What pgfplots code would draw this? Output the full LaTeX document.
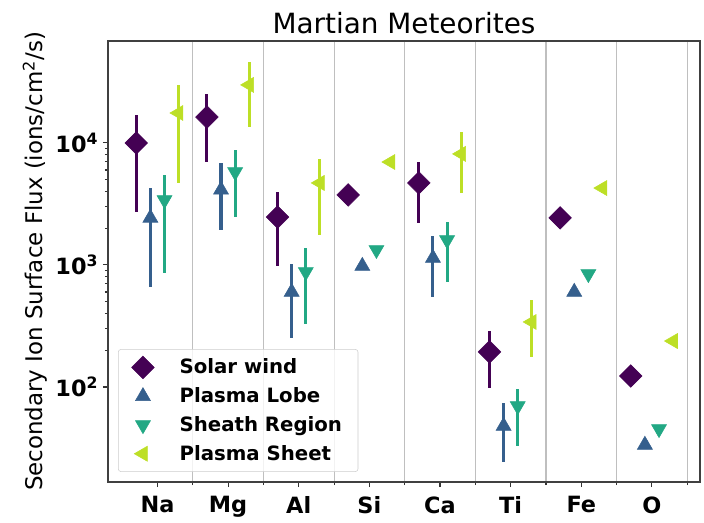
\documentclass[border=0pt]{standalone}
\usepackage{pgfplots}
\usepackage{pgfplotstable}
\usepackage{fontspec}
\setmainfont{DejaVu Sans}
\pgfplotsset{compat=1.18}
\definecolor{cSW}{HTML}{440154}
\definecolor{cPL}{HTML}{355F8D}
\definecolor{cSH}{HTML}{22A884}
\definecolor{cPS}{HTML}{BDDF26}

\pgfplotstableread{
x y ep em
-0.3 10000 7000 7280
0.7 16300 8900 9320
1.7 2470 1500 1490
2.7 3750 0 0
3.7 4700 2280 2490
4.7 194 94 96
5.7 2430 0 0
6.7 123 0 0
}\tSW
\pgfplotstableread{
x y ep em
-0.1 2430 1840 1770
0.9 4130 2720 2190
1.9 601 419 349
2.9 980 0 0
3.9 1140 590 593
4.9 47.9 26.1 23.6
5.9 601 0 0
6.9 33.5 0 0
}\tPL
\pgfplotstableread{
x y ep em
0.1 3410 2060 2551
1.1 5780 2990 3310
2.1 877 503 549
3.1 1330 0 0
4.1 1600 650 874
5.1 69.8 26.2 37
6.1 844 0 0
7.1 45.3 0 0
}\tSH
\pgfplotstableread{
x y ep em
0.3 17600 12300 12900
1.3 29900 16200 16400
2.3 4700 2700 2940
3.3 6980 0 0
4.3 8130 4170 4240
5.3 341 176 165
6.3 4270 350 350
7.3 238 0 0
}\tPS

\begin{document}
\begin{tikzpicture}
\begin{axis}[
  scale only axis,
  width=444pt, height=330.75pt,
  ymode=log,
  xmin=-0.7, xmax=7.68,
  ymin=16.65, ymax=68500,
  xtick={0,1,2,3,4,5,6,7},
  xticklabels={Na,Mg,Al,Si,Ca,Ti,Fe,O},
  minor xtick={0.5,1.5,2.5,3.5,4.5,5.5,6.5,7.5},
  xminorgrids=true,
  minor grid style={black!25, line width=0.8pt},
  ytick={100,1000,10000},
  yticklabels={\textbf{10\textsuperscript{2}},\textbf{10\textsuperscript{3}},\textbf{10\textsuperscript{4}}},
  tick align=outside,
  xtick pos=bottom, ytick pos=left,
  major tick length=3.8pt, minor tick length=2.4pt,
  every tick/.style={black!80, line width=0.8pt},
  axis line style={black!75, line width=1.1pt},
  ticklabel style={font=\fontsize{16.8}{19}\selectfont\bfseries},
  xticklabel style={yshift=-3.5pt},
  title={Martian Meteorites},
  title style={font=\fontsize{20.9}{24}\selectfont, yshift=-4pt},
  ylabel={Secondary Ion Surface Flux (ions/cm\textsuperscript{2}/s)},
  ylabel style={font=\fontsize{17.2}{20}\selectfont, yshift=-1pt},
  legend style={at={(0.017,0.023)}, anchor=south west, draw=black!20, rounded corners=2pt,
    fill=white, fill opacity=0.8, text opacity=1,
    font=\fontsize{14.8}{17}\selectfont\bfseries, row sep=4.8pt, inner xsep=10pt, inner ysep=5pt,
    /tikz/every odd column/.append style={column sep=17pt}},
  legend image post style={fill opacity=1, draw opacity=1},
  legend cell align=left,
  error bars/y dir=both, error bars/y explicit, error bars/error mark=none,
]
\addplot[only marks, mark=square*, mark size=6pt, mark options={rotate=45, cSW, fill=cSW},
  error bars/error bar style={cSW, line width=2.3pt}]
  table[x=x, y=y, y error plus=ep, y error minus=em]{\tSW};
\addlegendentry{Solar wind}
\addplot[only marks, mark=triangle*, mark size=6.5pt, mark options={cPL, fill=cPL},
  error bars/error bar style={cPL, line width=2.3pt}]
  table[x=x, y=y, y error plus=ep, y error minus=em]{\tPL};
\addlegendentry{Plasma Lobe}
\addplot[only marks, mark=triangle*, mark size=6.5pt, mark options={rotate=180, cSH, fill=cSH},
  error bars/error bar style={cSH, line width=2.3pt}]
  table[x=x, y=y, y error plus=ep, y error minus=em]{\tSH};
\addlegendentry{Sheath Region}
\addplot[only marks, mark=triangle*, mark size=6.5pt, mark options={rotate=90, cPS, fill=cPS},
  error bars/error bar style={cPS, line width=2.3pt}]
  table[x=x, y=y, y error plus=ep, y error minus=em]{\tPS};
\addlegendentry{Plasma Sheet}
\end{axis}
\path (current axis.south west)++(-81pt,-27pt) rectangle ([xshift=3pt,yshift=30.75pt]current axis.north east);
\end{tikzpicture}
\end{document}
